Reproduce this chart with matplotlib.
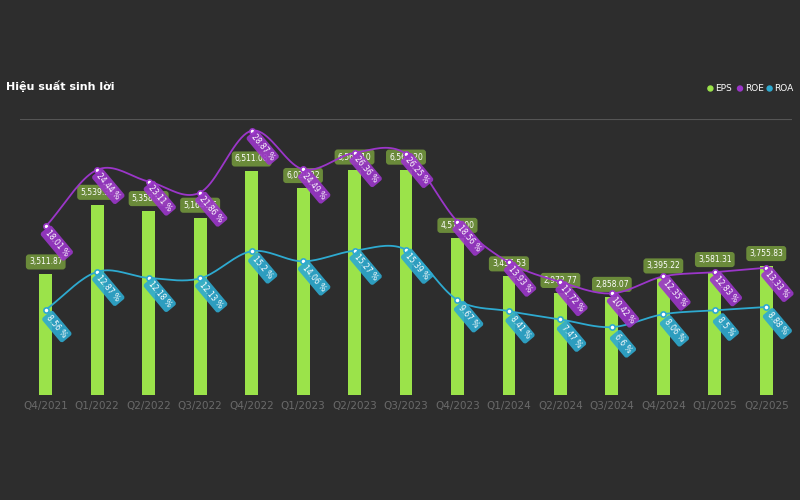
import numpy as np
import matplotlib
matplotlib.use("Agg")
import matplotlib.pyplot as plt

quarters = ["Q4/2021","Q1/2022","Q2/2022","Q3/2022","Q4/2022","Q1/2023","Q2/2023","Q3/2023",
            "Q4/2023","Q1/2024","Q2/2024","Q3/2024","Q4/2024","Q1/2025","Q2/2025"]
eps = [3511.87,5539.38,5358.03,5164.36,6511.08,6029.22,6568.10,6565.20,4577.00,3456.53,2972.77,2858.07,3395.22,3581.31,3755.83]
roe = [18.01,24.44,23.11,21.86,28.87,24.49,26.36,26.25,18.56,13.93,11.72,10.42,12.35,12.83,13.33]
roa = [8.56,12.87,12.18,12.13,15.2,14.06,15.27,15.39,9.67,8.41,7.47,6.6,8.06,8.5,8.88]

BG = "#2d2d2d"
GREEN = "#9be34a"; PURPLE = "#9b36c9"; CYAN = "#2eaad0"

def smooth(x, y, n=20):
    x = np.asarray(x, float); y = np.asarray(y, float)
    px = np.concatenate([[2*x[0]-x[1]], x, [2*x[-1]-x[-2]]])
    py = np.concatenate([[2*y[0]-y[1]], y, [2*y[-1]-y[-2]]])
    xs, ys = [], []
    for i in range(1, len(px)-2):
        t = np.linspace(0, 1, n, endpoint=False)
        for P, out in ((px, xs), (py, ys)):
            p0, p1, p2, p3 = P[i-1], P[i], P[i+1], P[i+2]
            out.extend(0.5*((2*p1) + (-p0+p2)*t + (2*p0-5*p1+4*p2-p3)*t**2 + (-p0+3*p1-3*p2+p3)*t**3))
    xs.append(x[-1]); ys.append(y[-1])
    return np.array(xs), np.array(ys)

fig = plt.figure(figsize=(8, 5), dpi=100, facecolor=BG)
ax = fig.add_axes([0.025, 0.21, 0.965, 0.552], facecolor=BG)
ax2 = ax.twinx()
x = np.arange(len(quarters))
ax.bar(x, eps, width=0.25, color=GREEN, zorder=2)
ax.set_ylim(0, 8040)
ax2.set_ylim(-1.1, 30.2)
ax.set_xlim(-0.5, len(x)-0.5)
for a in (ax, ax2):
    a.set_yticks([])
    for s in a.spines.values():
        s.set_visible(False)
ax.axhline(8040, color="#555555", lw=0.8)
ax.set_xticks(x)
ax.set_xticklabels(quarters, color="#6a6a6a", fontsize=7.5)
ax.tick_params(axis="x", length=0, pad=4)

for vals, col in ((roe, PURPLE), (roa, CYAN)):
    sx, sy = smooth(x, vals)
    ax2.plot(sx, sy, color=col, lw=1.3, zorder=3)
    ax2.scatter(x, vals, s=14, color="white", edgecolor=col, lw=1.2, zorder=4)
    for xi, v in zip(x, vals):
        ax2.annotate(f"{v:g} %", (xi, v), xytext=(8, -12), textcoords="offset points",
                     rotation=-50, fontsize=5.5, color="white", ha="center", va="center",
                     bbox=dict(boxstyle="round,pad=0.35", fc=col, ec="none", alpha=0.9), zorder=5)
for xi, v in zip(x, eps):
    ax.annotate(f"{v:,.2f}", (xi, v), xytext=(0, 9), textcoords="offset points",
                fontsize=5.5, color="white", ha="center", va="center",
                bbox=dict(boxstyle="round,pad=0.4", fc="#6a8a3a", ec="none"), zorder=5)

fig.text(0.008, 0.82, "Hiệu suất sinh lời", color="white", fontsize=8, fontweight="bold")
lx = 0.888
for lab, col in (("EPS", GREEN), ("ROE", PURPLE), ("ROA", CYAN)):
    fig.patches.append(matplotlib.patches.Circle((lx*800, 0.823*500), 2.5, color=col,
                                                 transform=None, figure=fig))
    fig.text(lx + 0.006, 0.823, lab, color="white", fontsize=6.5, va="center")
    lx += 0.037
fig.savefig("out.png", facecolor=BG)
